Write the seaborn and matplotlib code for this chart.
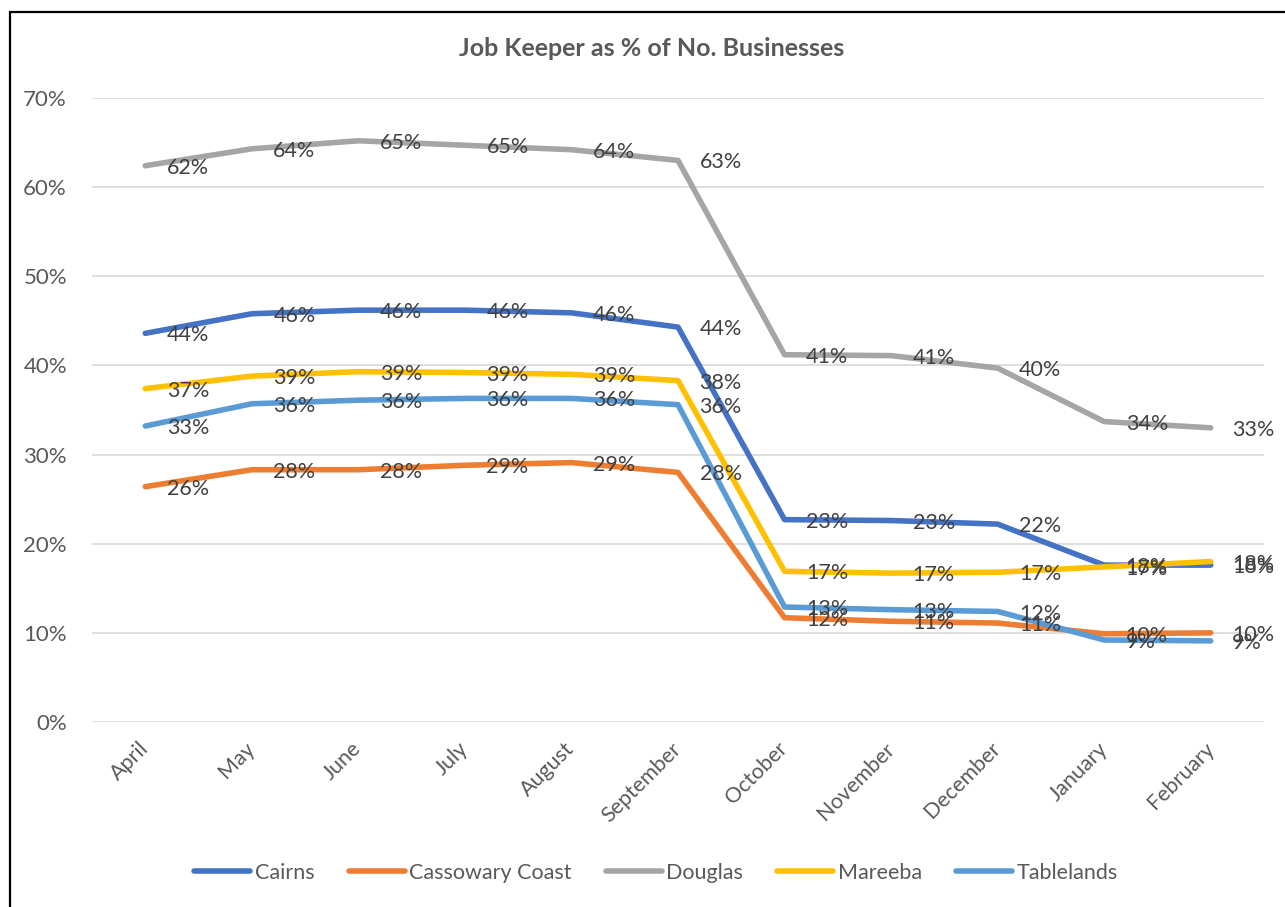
import pandas as pd
import matplotlib.pyplot as plt
import seaborn as sns
from matplotlib.patches import Rectangle
from matplotlib.ticker import PercentFormatter

# Data (percent of businesses on Job Keeper)
months = ['April', 'May', 'June', 'July', 'August', 'September',
          'October', 'November', 'December', 'January', 'February']
cairns = [43.6, 45.8, 46.2, 46.2, 45.9, 44.3, 22.7, 22.6, 22.2, 17.6, 17.6]
cassowary_coast = [26.4, 28.3, 28.3, 28.8, 29.1, 28.0, 11.7, 11.3, 11.1, 9.9, 10.0]
douglas = [62.4, 64.3, 65.2, 64.7, 64.2, 63.0, 41.2, 41.1, 39.7, 33.7, 33.0]
mareeba = [37.4, 38.8, 39.3, 39.2, 39.0, 38.3, 16.9, 16.7, 16.8, 17.4, 18.0]
tablelands = [33.2, 35.7, 36.1, 36.3, 36.3, 35.6, 12.9, 12.6, 12.4, 9.2, 9.1]

series = {
    'Cairns': cairns,
    'Cassowary Coast': cassowary_coast,
    'Douglas': douglas,
    'Mareeba': mareeba,
    'Tablelands': tablelands,
}
colors = ['#4472C4', '#ED7D31', '#A5A5A5', '#FFC000', '#5B9BD5']

rows = []
for name, vals in series.items():
    for i, (m, v) in enumerate(zip(months, vals)):
        rows.append({'Region': name, 'idx': i, 'Month': m, 'Value': v})
df = pd.DataFrame(rows)

sns.set_style('white')
plt.rcParams['font.family'] = ['Lato', 'DejaVu Sans']

fig = plt.figure(figsize=(12.85, 9.07), dpi=100)
ax = fig.add_axes([92 / 1285, 185 / 907, 1172 / 1285, 624 / 907])

sns.lineplot(data=df, x='idx', y='Value', hue='Region', palette=colors,
             linewidth=4, ax=ax, legend=True)

# Data labels to the right of each point
for name, vals in series.items():
    for i, v in enumerate(vals):
        ax.annotate(f'{v:.0f}%', (i, v), xytext=(15.5, -1.5),
                    textcoords='offset points', ha='left', va='center',
                    fontsize=15.5, color='#404040')

ax.set_xlim(-0.5, 10.5)
ax.set_ylim(0, 70)
ax.set_yticks(range(0, 71, 10))
ax.yaxis.set_major_formatter(PercentFormatter(decimals=0))
ax.set_xticks(range(len(months)))
ax.set_xticklabels(months, rotation=45, ha='right', va='center',
                   rotation_mode='anchor')
ax.tick_params(axis='y', length=0, pad=18, labelsize=16, labelcolor='#595959')
ax.tick_params(axis='x', length=0, pad=17, labelsize=15.5, labelcolor='#595959')
ax.grid(axis='y', color='#d9d9d9', linewidth=1.2)
ax.set_axisbelow(True)
for s in ax.spines.values():
    s.set_visible(False)
ax.set_xlabel('')
ax.set_ylabel('')

fig.text(652 / 1285, (907 - 48) / 907, 'Job Keeper as % of No. Businesses',
         ha='center', va='center', fontsize=18, fontweight='bold',
         color='#595959')

handles, labels = ax.get_legend_handles_labels()
ax.legend_.remove()
leg = fig.legend(handles, labels, loc='center', bbox_to_anchor=(656 / 1285, 34 / 907),
                 ncol=5, frameon=False, fontsize=15.5, handlelength=2.6,
                 handletextpad=0.2, columnspacing=1.6)
for t in leg.get_texts():
    t.set_color('#595959')
for h in leg.get_lines():
    h.set_linewidth(4)

# Chart frame
fig.patches.append(Rectangle((10 / 1285, -0.2), 1.2, (907 - 12) / 907 + 0.2,
                             transform=fig.transFigure, fill=False,
                             edgecolor='black', linewidth=1.6))

fig.savefig('out.png', dpi=100)
